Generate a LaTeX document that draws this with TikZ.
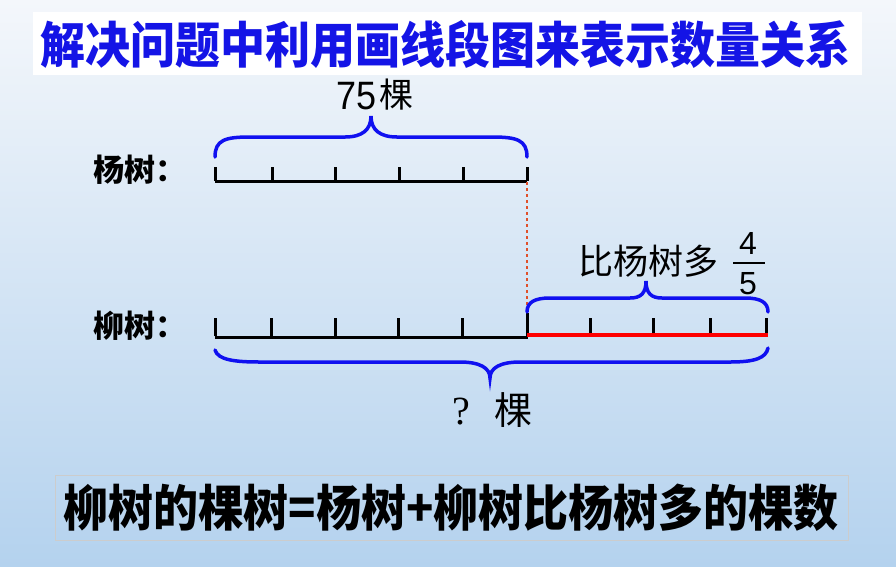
\documentclass[tikz,border=0pt]{standalone}
\usepackage{fontspec}
\setmainfont{Liberation Sans}
\newfontfamily\cjk{Noto Sans CJK SC}
\newfontfamily\serifl{Liberation Serif}
\definecolor{titleblue}{HTML}{1414E6}
\definecolor{bracblue}{HTML}{1010F0}
\definecolor{dotred}{HTML}{E0502A}
\definecolor{bgtop}{HTML}{F4F7FB}
\definecolor{bgbot}{HTML}{B4D2EE}
\tikzset{
  seg/.style={line width=3pt, black},
  tick/.style={line width=3pt, black},
  brace/.style={line width=3.5pt, bracblue, line cap=round},
  lbl/.style={inner sep=0pt, font=\cjk\bfseries\fontsize{31}{31}\selectfont},
}
\begin{document}
\begin{tikzpicture}[x=1pt,y=-1pt]
\useasboundingbox (0,0) rectangle (896,566);
\shade[top color=bgtop, bottom color=bgbot] (0,0) rectangle (896,566);
% title
\fill[white] (33,12) rectangle (862,75);
\node[anchor=west, inner sep=0pt, text=titleblue, font=\cjk\bfseries\fontsize{45}{45}\selectfont] (title) at (40,44) {\scalebox{1}[1.1]{解决问题中利用画线段图来表示数量关系}};
% labels
\node[lbl, anchor=west] (yang) at (93,170) {杨树：};
\node[lbl, anchor=west] (liu) at (93,326) {柳树：};
% top segment
\draw[seg] (215,181) -- (527,181);
\foreach \x in {215,272,335,399,463,527} \draw[tick] (\x,181) -- (\x,167);
% top brace
\draw[brace] (215,157) .. controls (215,140) and (225,137) .. (250,137) -- (345,137) .. controls (362,137) and (371,130) .. (371,116) .. controls (371,130) and (380,137) .. (397,137) -- (492,137) .. controls (517,137) and (527,140) .. (527,157);
\node[inner sep=0pt, anchor=base east] (n75) at (377,109) {\scalebox{1}[1.1]{\fontsize{36}{36}\selectfont 75}};
\node[inner sep=0pt, anchor=base west] (ke1) at (379,107) {\cjk\fontsize{34}{34}\selectfont 棵};
% dotted
\draw[dotred, line width=2.5pt, dash pattern=on 3pt off 3pt] (527,182) -- (527,318);
% bottom segment
\draw[seg] (215,337) -- (528,337);
\foreach \x in {215,271,335,398,462} \draw[tick] (\x,336) -- (\x,318);
\draw[tick] (527,337) -- (527,313);
\draw[line width=4pt, red] (527,335) -- (768,335);
\foreach \x in {590,653,710,766} \draw[tick] (\x,333) -- (\x,318);
% right brace
\draw[brace] (527,312) .. controls (527,302) and (535,298) .. (550,298) -- (630,298) .. controls (641,298) and (646,293) .. (646,281) .. controls (646,293) and (651,298) .. (662,298) -- (745,298) .. controls (760,298) and (768,302) .. (768,312);
\node[inner sep=0pt, anchor=base west] (bi) at (578,274) {\cjk\fontsize{35}{35}\selectfont 比杨树多};
\node[inner sep=0pt] (four) at (748,243) {\fontsize{32}{32}\selectfont 4};
\node[inner sep=0pt] (five) at (748,284) {\fontsize{32}{32}\selectfont 5};
\draw[line width=2pt] (733,263) -- (765,263);
% bottom brace
\draw[brace] (215,350) .. controls (218,360) and (235,362) .. (260,362) -- (460,362) .. controls (480,362) and (490,368) .. (490,378) .. controls (490,368) and (500,362) .. (520,362) -- (730,362) .. controls (755,362) and (766,358) .. (768,348);
\node[inner sep=0pt, anchor=base east] (q) at (470,424) {\serifl\fontsize{40}{40}\selectfont ?};
\node[inner sep=0pt, anchor=base west] (ke2) at (494,424) {\cjk\fontsize{38}{38}\selectfont 棵};
% bottom box
\draw[draw=gray!40, line width=0.8pt, fill=none] (55,475) rectangle (848,540);
\node[inner sep=0pt, font=\cjk\bfseries\fontsize{45}{45}\selectfont] (formula) at (451,508) {\scalebox{1}[1.1]{柳树的棵树=杨树+柳树比杨树多的棵数}};
\end{tikzpicture}
\end{document}
